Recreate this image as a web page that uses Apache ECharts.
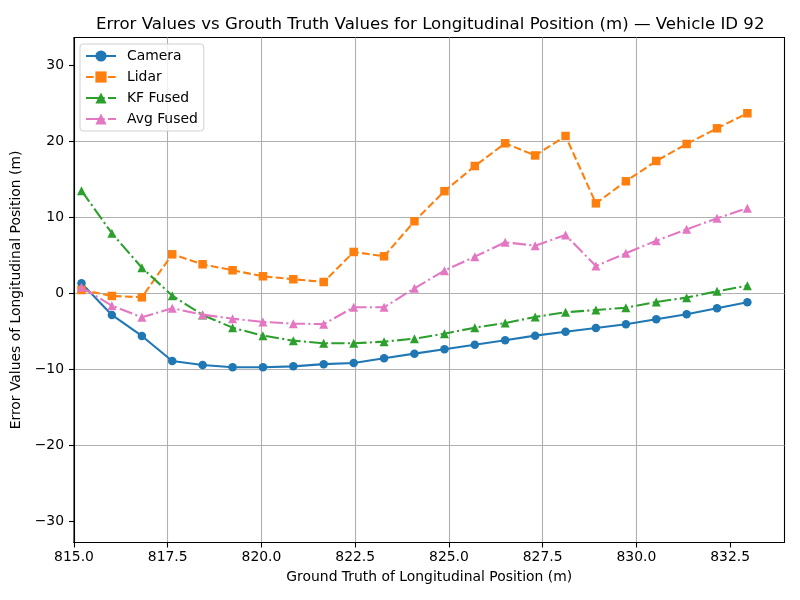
<!DOCTYPE html>
<html>
<head>
<meta charset="utf-8">
<script src="https://cdn.jsdelivr.net/npm/echarts@6/dist/echarts.min.js"></script>
<style>html,body{margin:0;padding:0;background:#fff;}#c{width:800px;height:600px;}</style>
</head>
<body>
<div id="c"></div>
<script>
const groundTruth = [815.20, 816.01, 816.81, 817.62, 818.43, 819.23, 820.04, 820.85, 821.66, 822.46, 823.27, 824.08, 824.88, 825.69, 826.50, 827.30, 828.11, 828.92, 829.72, 830.53, 831.34, 832.15, 832.96];
const camera = [1.33, -2.84, -5.6, -8.9, -9.42, -9.73, -9.73, -9.6, -9.31, -9.16, -8.54, -7.93, -7.36, -6.75, -6.17, -5.56, -5.05, -4.55, -4.05, -3.4, -2.75, -1.96, -1.17];
const lidar = [0.45, -0.34, -0.52, 5.14, 3.83, 3.04, 2.25, 1.86, 1.5, 5.45, 4.88, 9.49, 13.45, 16.76, 19.75, 18.15, 20.71, 11.85, 14.75, 17.42, 19.66, 21.72, 23.7];
const kfFused = [13.51, 7.91, 3.38, -0.3, -2.84, -4.51, -5.56, -6.22, -6.57, -6.57, -6.35, -5.96, -5.3, -4.51, -3.9, -3.1, -2.49, -2.18, -1.88, -1.13, -0.56, 0.27, 1.02];
const avgFused = [0.8, -1.62, -3.15, -1.96, -2.8, -3.33, -3.76, -3.98, -4.05, -1.83, -1.83, 0.67, 2.99, 4.83, 6.72, 6.28, 7.68, 3.6, 5.28, 6.93, 8.43, 9.88, 11.2];
const xTicks = [815, 817.5, 820, 822.5, 825, 827.5, 830, 832.5];
const yTicks = [-30, -20, -10, 0, 10, 20, 30];
const seriesNames = ['Camera', 'Lidar', 'KF Fused', 'Avg Fused'];

const FONT = 'DejaVu Sans';
const pair = arr => groundTruth.map((x, i) => [x, arr[i]]);
const fmtMinus = s => String(s).replace('-', '\u2212');

const chart = echarts.init(document.getElementById('c'), null, {renderer: 'canvas'});
const lw = 2.08;
function mkSeries(name, data, color, symbol, size, dash) {
  return {
    name, type: 'line', data: pair(data), symbol, symbolSize: size,
    showAllSymbol: true, animation: false,
    itemStyle: {color: color},
    lineStyle: {color: color, width: lw, type: dash},
    emphasis: {disabled: true}
  };
}
chart.setOption({
  animation: false,
  backgroundColor: '#fff',
  textStyle: {fontFamily: FONT},
  title: {
    text: 'Error Values vs Grouth Truth Values for Longitudinal Position (m) \u2014 Vehicle ID 92',
    left: 91, top: 11,
    textStyle: {fontFamily: FONT, fontSize: 16.6, fontWeight: 'normal', color: '#000'}
  },
  grid: {left: 74, right: 15.5, top: 37.5, bottom: 57.5, show: true, borderColor: '#000', borderWidth: 1.1, backgroundColor: 'transparent', containLabel: false},
  legend: {
    orient: 'vertical', left: 80, top: 44,
    padding: [5, 6, 5, 5], itemGap: 7, itemWidth: 30, itemHeight: 14,
    backgroundColor: 'rgba(255,255,255,0.8)', borderColor: '#d0d0d0', borderWidth: 1, borderRadius: 3,
    textStyle: {fontFamily: FONT, fontSize: 13.9, color: '#000', padding: [0, 0, 0, 6]},
    data: seriesNames
  },
  xAxis: {
    type: 'value', min: 815, max: 833.95, interval: 2.5,
    name: 'Ground Truth of Longitudinal Position (m)', nameLocation: 'middle', nameGap: 28,
    nameTextStyle: {fontFamily: FONT, fontSize: 13.9, color: '#000'},
    axisLine: {show: true, onZero: false, lineStyle: {color: '#000', width: 1.1}},
    axisTick: {show: true, length: 5, lineStyle: {color: '#000', width: 1.1}, customValues: xTicks},
    axisLabel: {fontFamily: FONT, fontSize: 13.9, color: '#000', margin: 8, customValues: xTicks, formatter: v => fmtMinus(Number(v).toFixed(1))},
    splitLine: {show: true, showMinLine: false, showMaxLine: false, lineStyle: {color: '#b0b0b0', width: 1.1}}
  },
  yAxis: {
    type: 'value', min: -32.78, max: 33.67,
    name: 'Error Values of Longitudinal Position (m)', nameLocation: 'middle', nameGap: 42,
    nameTextStyle: {fontFamily: FONT, fontSize: 13.9, color: '#000'},
    axisLine: {show: true, onZero: false, lineStyle: {color: '#000', width: 1.1}},
    axisTick: {show: true, length: 5, lineStyle: {color: '#000', width: 1.1}, customValues: yTicks},
    axisLabel: {fontFamily: FONT, fontSize: 13.9, color: '#000', margin: 10, customValues: yTicks, formatter: v => fmtMinus(v)},
    splitLine: {show: true, showMinLine: false, showMaxLine: false, lineStyle: {color: '#b0b0b0', width: 1.1}}
  },
  series: [
    mkSeries('Camera', camera, '#1f77b4', 'circle', 8.5, 'solid'),
    mkSeries('Lidar', lidar, '#ff7f0e', 'rect', 8.5, [7.7, 3.3]),
    mkSeries('KF Fused', kfFused, '#2ca02c', 'triangle', 9, [13.3, 3.3, 2.1, 3.3]),
    mkSeries('Avg Fused', avgFused, '#e377c2', 'triangle', 9, [13.3, 3.3, 2.1, 3.3])
  ]
});
</script>
</body>
</html>
